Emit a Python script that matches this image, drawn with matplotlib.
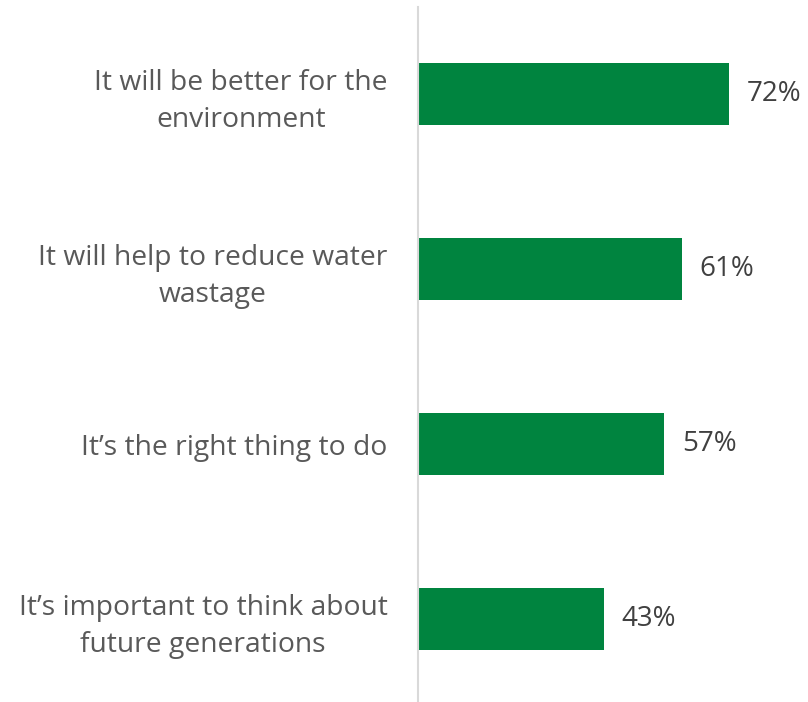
import matplotlib.pyplot as plt
import numpy as np

categories = [
    "It will be better for the\nenvironment",
    "It will help to reduce water\nwastage",
    "It\u2019s the right thing to do",
    "It\u2019s important to think about\nfuture generations",
]
values = [72, 61, 57, 43]

green = "#00843F"

fig = plt.figure(figsize=(8.08, 7.02), dpi=100)
ax = fig.add_axes([418 / 808, -4.5 / 702, 390 / 808, 700 / 702])

y = np.arange(len(categories))
ax.barh(y, values, height=0.354, color=green)
ax.set_ylim(len(categories) - 0.5, -0.5)
ax.set_xlim(0, 390 / 4.32)

# value labels right of each bar
for yi, v in zip(y, values):
    ax.text(v + 18 / 4.32, yi, f"{v}%", va="center", ha="left",
            fontsize=20, color="#404040", family="Open Sans")

ax.set_yticks(y)
ax.set_yticklabels(categories, fontsize=20.3, color="#595959",
                   family="Open Sans", linespacing=1.4,
                   multialignment="center")
ax.tick_params(axis="y", length=0, pad=22)
ax.set_xticks([])

for s in ["top", "right", "bottom"]:
    ax.spines[s].set_visible(False)
ax.spines["left"].set_color("#D9D9D9")
ax.spines["left"].set_linewidth(1.5)

fig.savefig("out.png", dpi=100)
